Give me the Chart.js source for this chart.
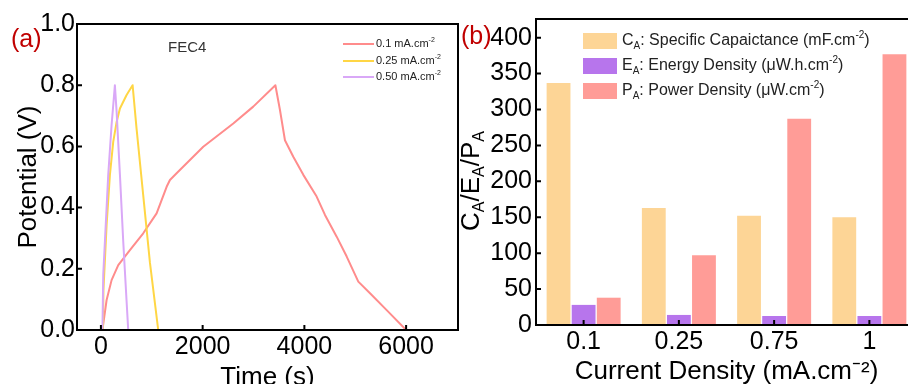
<!DOCTYPE html>
<html>
<head>
<meta charset="utf-8">
<script src="https://cdn.jsdelivr.net/npm/chart.js@4.4.0/dist/chart.umd.min.js"></script>
<style>
  html, body { margin: 0; padding: 0; overflow: hidden; background: #fff; width: 908px; height: 384px; }
  canvas { position: absolute; top: 0; }
</style>
</head>
<body>
<canvas id="gcd" width="470" height="393" style="left:0"></canvas>
<canvas id="bars" width="470" height="393" style="left:450px"></canvas>
<script>
// (a) GCD curves of FEC4 : time (s) / potential (V)
const t01  = [30, 112, 210, 341, 570, 832, 1095, 1292, 1357, 1488, 2012, 2602, 2995, 3430, 3520, 3618, 3782, 3979, 4241, 4405, 4635, 4832, 5060, 5290, 5618, 6000];
const v01  = [0, 0.098, 0.163, 0.212, 0.261, 0.316, 0.381, 0.468, 0.49, 0.512, 0.599, 0.675, 0.73, 0.8, 0.719, 0.62, 0.566, 0.507, 0.436, 0.376, 0.305, 0.24, 0.158, 0.12, 0.065, 0];
const t025 = [40, 50, 112, 177, 242, 309, 374, 505, 623, 700, 832, 964, 1127];
const v025 = [0, 0.13, 0.343, 0.507, 0.615, 0.68, 0.724, 0.768, 0.8, 0.66, 0.44, 0.22, 0];
const t050 = [30, 46, 79, 144, 210, 275, 309, 374, 439, 505, 537];
const v050 = [0, 0.18, 0.29, 0.507, 0.67, 0.8, 0.713, 0.507, 0.289, 0.093, 0];
const curveLabels = ['0.1 mA.cm', '0.25 mA.cm', '0.50 mA.cm'];
const timeTicks = [0, 2000, 4000, 6000];
const potTicks = [0, 0.2, 0.4, 0.6, 0.8, 1.0];

// (b) areal performance
const densities   = ['0.1', '0.25', '0.75', '1'];
const capacitance = [337, 163, 152, 150];
const energy      = [28, 14, 12.5, 12.5];
const power       = [38, 97, 287, 377];
const valueTicks  = [0, 50, 100, 150, 200, 250, 300, 350, 400];

const FONT = '"Liberation Sans", Arial, sans-serif';
Chart.defaults.font.family = FONT;
Chart.defaults.color = '#000';

const RED = '#FF8C8C', YEL = '#FFD645', LIL = '#D9A8F7';
const C_COL = '#FDD596', E_COL = '#B775EC', P_COL = '#FF9C97';

function pts(t, v) {
  return t.map((x, i) => ({x: x, y: v[i]}));
}
function fixTicks(list) {
  return s => { s.ticks = list.map(v => ({value: v})); };
}

// text with sub / superscripts, left aligned, middle baseline
function richText(ctx, parts, x, y, size) {
  let cx = x;
  parts.forEach(p => {
    const s = p[1] ? Math.round(size * 0.62) : size;
    ctx.font = s + 'px ' + FONT;
    const dy = p[1] === 'sub' ? size * 0.3 : (p[1] === 'sup' ? -size * 0.33 : 0);
    ctx.fillText(p[0], cx, y + dy);
    cx += ctx.measureText(p[0]).width;
  });
  return cx - x;
}
function richWidth(ctx, parts, size) {
  let w = 0;
  parts.forEach(p => {
    ctx.font = (p[1] ? Math.round(size * 0.62) : size) + 'px ' + FONT;
    w += ctx.measureText(p[0]).width;
  });
  return w;
}

// box around the plot + inward ticks
const frame = {
  id: 'frame',
  afterDatasetsDraw(chart) {
    const {ctx, chartArea: a, scales} = chart;
    ctx.save();
    ctx.strokeStyle = '#000';
    ctx.lineWidth = 2;
    ctx.strokeRect(a.left, a.top, a.right - a.left, a.bottom - a.top);
    ctx.beginPath();
    scales.x.ticks.forEach((tk, i) => {
      const px = scales.x.getPixelForTick(i);
      ctx.moveTo(px, a.bottom); ctx.lineTo(px, a.bottom - 5);
    });
    scales.y.ticks.forEach((tk, i) => {
      const py = scales.y.getPixelForTick(i);
      ctx.moveTo(a.left, py); ctx.lineTo(a.left + 5, py);
    });
    ctx.stroke();
    ctx.restore();
  }
};

const notesA = {
  id: 'notesA',
  afterDraw(chart) {
    const ctx = chart.ctx;
    ctx.save();
    ctx.textBaseline = 'middle';
    ctx.textAlign = 'left';
    ctx.fillStyle = '#C00000';
    ctx.font = '25px ' + FONT;
    ctx.fillText('(a)', 11, 40);
    ctx.fillStyle = '#333';
    ctx.font = '15px ' + FONT;
    ctx.fillText('FEC4', 168, 48);
    const cols = [RED, YEL, LIL];
    const rows = [44, 61, 77];
    curveLabels.forEach((lab, i) => {
      ctx.strokeStyle = cols[i];
      ctx.lineWidth = 2;
      ctx.beginPath();
      ctx.moveTo(343, rows[i]); ctx.lineTo(374, rows[i]);
      ctx.stroke();
      ctx.fillStyle = '#222';
      richText(ctx, [[lab, ''], ['-2', 'sup']], 376, rows[i], 11);
    });
    ctx.restore();
  }
};

const lineBase = {fill: false, pointRadius: 0, borderWidth: 2, tension: 0, borderJoinStyle: 'round'};

new Chart(document.getElementById('gcd'), {
  type: 'line',
  data: {
    datasets: [
      Object.assign({label: curveLabels[0], data: pts(t01, v01), borderColor: RED, order: 3}, lineBase),
      Object.assign({label: curveLabels[1], data: pts(t025, v025), borderColor: YEL, order: 2}, lineBase),
      Object.assign({label: curveLabels[2], data: pts(t050, v050), borderColor: LIL, order: 1}, lineBase)
    ]
  },
  options: {
    responsive: false,
    animation: false,
    layout: {padding: {left: 0, right: 12, top: 24, bottom: 0}},
    plugins: {legend: {display: false}, tooltip: {enabled: false}},
    scales: {
      x: {
        type: 'linear', min: -470, max: 7020,
        grid: {display: false, drawTicks: false}, border: {display: false},
        ticks: {padding: 2, font: {size: 25}, color: '#000', callback: v => String(v)},
        afterBuildTicks: fixTicks(timeTicks),
        title: {display: true, text: 'Time (s)', font: {size: 26}, padding: {top: 0, bottom: 0}},
        afterFit: s => { s.height = 63; }
      },
      y: {
        min: 0, max: 1.0,
        grid: {display: false, drawTicks: false}, border: {display: false},
        ticks: {padding: 2, font: {size: 25}, color: '#000', callback: v => Number(v).toFixed(1)},
        afterBuildTicks: fixTicks(potTicks),
        title: {display: true, text: 'Potential (V)', font: {size: 26}, padding: {top: 13, bottom: 0}},
        afterFit: s => { s.width = 77; }
      }
    }
  },
  plugins: [frame, notesA]
});

const legendB = [
  [C_COL, [['C', ''], ['A', 'sub'], [': Specific Capaictance (mF.cm', ''], ['-2', 'sup'], [')', '']]],
  [E_COL, [['E', ''], ['A', 'sub'], [': Energy Density (\u03bcW.h.cm', ''], ['-2', 'sup'], [')', '']]],
  [P_COL, [['P', ''], ['A', 'sub'], [': Power Density (\u03bcW.cm', ''], ['-2', 'sup'], [')', '']]]
];

const notesB = {
  id: 'notesB',
  afterDraw(chart) {
    const ctx = chart.ctx;
    ctx.save();
    ctx.textBaseline = 'middle';
    ctx.textAlign = 'left';
    ctx.fillStyle = '#C00000';
    ctx.font = '25px ' + FONT;
    ctx.fillText('(b)', 11, 37);
    const rows = [41, 66, 91];
    legendB.forEach((item, i) => {
      ctx.fillStyle = item[0];
      ctx.fillRect(133, rows[i] - 8, 34, 16);
      ctx.fillStyle = '#222';
      richText(ctx, item[1], 172, rows[i], 16);
    });
    // rotated y title with subscripts
    const parts = [['C', ''], ['A', 'sub'], ['/E', ''], ['A', 'sub'], ['/P', ''], ['A', 'sub']];
    ctx.translate(22, 181);
    ctx.rotate(-Math.PI / 2);
    ctx.fillStyle = '#000';
    const w = richWidth(ctx, parts, 26);
    richText(ctx, parts, -w / 2, 0, 26);
    ctx.restore();
  }
};

new Chart(document.getElementById('bars'), {
  type: 'bar',
  data: {
    labels: densities,
    datasets: [
      {label: 'CA', data: capacitance, backgroundColor: C_COL},
      {label: 'EA', data: energy, backgroundColor: E_COL},
      {label: 'PA', data: power, backgroundColor: P_COL}
    ]
  },
  options: {
    responsive: false,
    animation: false,
    layout: {padding: {left: 0, right: 3, top: 19, bottom: 0}},
    datasets: {bar: {categoryPercentage: 0.79, barPercentage: 0.95, borderWidth: 0}},
    plugins: {legend: {display: false}, tooltip: {enabled: false}},
    scales: {
      x: {
        grid: {display: false, drawTicks: false}, border: {display: false},
        ticks: {padding: 2, font: {size: 25}, color: '#000'},
        title: {display: true, text: 'Current Density (mA.cm\u207b\u00b2)', font: {size: 26}, padding: {top: 0, bottom: 6}},
        afterFit: s => { s.height = 68; }
      },
      y: {
        min: 0, max: 426,
        grid: {display: false, drawTicks: false}, border: {display: false},
        ticks: {padding: 4, font: {size: 25}, color: '#000'},
        afterBuildTicks: fixTicks(valueTicks),
        afterFit: s => { s.width = 86; }
      }
    }
  },
  plugins: [frame, notesB]
});
</script>
</body>
</html>
